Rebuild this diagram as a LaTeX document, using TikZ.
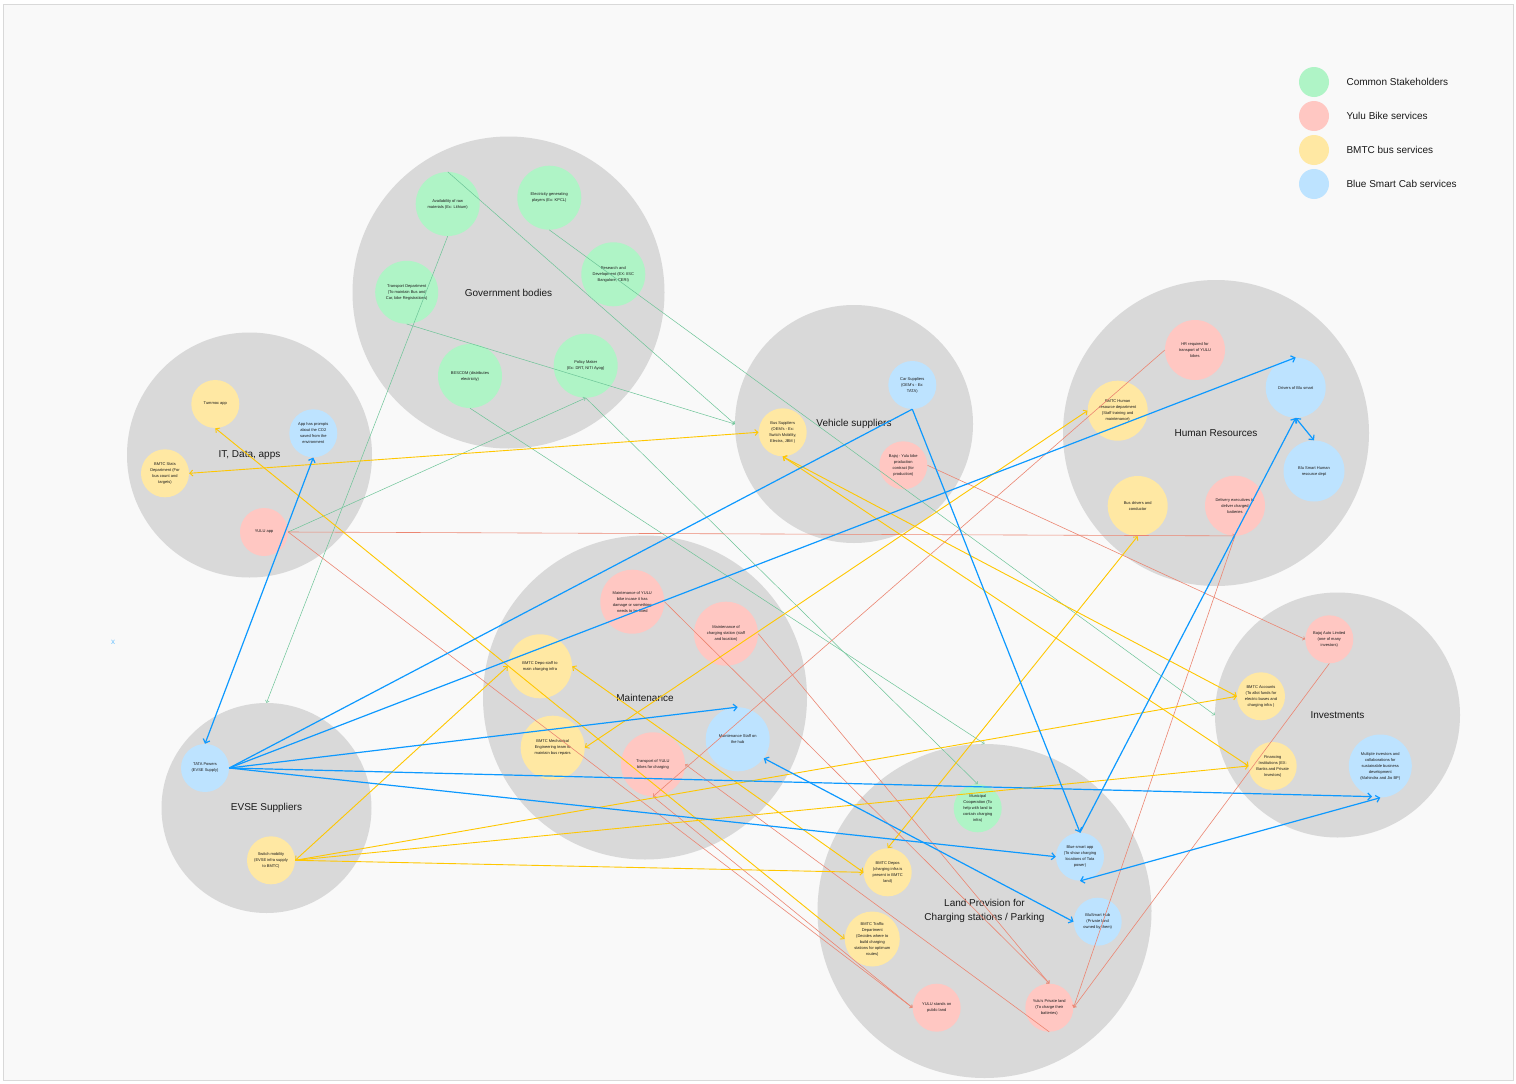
\documentclass[tikz,border=0pt]{standalone}
\usepackage{fontspec}
\setmainfont{Liberation Sans}
\usetikzlibrary{arrows.meta}
\definecolor{stakegreen}{HTML}{AFF4C6}
\definecolor{yulured}{HTML}{FFC7C2}
\definecolor{bmtcyellow}{HTML}{FFE8A3}
\definecolor{blucabblue}{HTML}{BDE3FF}
\definecolor{groupgray}{HTML}{D9D9D9}
\definecolor{pagebg}{HTML}{F9F9F9}
\definecolor{linkgreen}{HTML}{6CC497}
\definecolor{linkred}{HTML}{EC8672}
\definecolor{linkyellow}{HTML}{FFC700}
\definecolor{linkblue}{HTML}{0D99FF}
\begin{document}
\begin{tikzpicture}[x=1pt, y=-1pt,
  group/.style={circle, fill=groupgray, inner sep=0pt, align=center, text=black!90, font=\fontsize{10}{14}\selectfont},
  member/.style={circle, inner sep=0pt, align=center, text=black!90, font=\fontsize{4}{6}\selectfont},
  common/.style={member, fill=stakegreen},
  yulu/.style={member, fill=yulured},
  bmtc/.style={member, fill=bmtcyellow},
  blucab/.style={member, fill=blucabblue},
  legendtext/.style={anchor=west, text=black!90, font=\fontsize{10}{12}\selectfont},
  greenlink/.style={linkgreen, line width=0.5pt, >={Straight Barb[length=2pt,width=4pt]}},
  redlink/.style={linkred, line width=0.6pt, >={Straight Barb[length=2pt,width=4pt]}},
  yellowlink/.style={linkyellow, line width=0.9pt, >={Straight Barb[length=3pt,width=6pt]}},
  bluelink/.style={linkblue, line width=1.2pt, >={Straight Barb[length=3.5pt,width=7pt]}}]
  \useasboundingbox (0,0) rectangle (1516,1084);
  \fill[white] (0,0) rectangle (1516,1084);
  \filldraw[fill=pagebg, draw=black!15, line width=0.8pt] (3.5,4.5) rectangle (1513,1080);

  % groups
  \node[group, minimum size=312pt] (gov) at (508.5,292.5) {Government bodies};
  \node[group, minimum size=245pt] (itapps) at (249.5,455) {IT, Data, apps};
  \node[group, minimum size=238pt] (vehicle) at (854,424) {Vehicle suppliers};
  \node[group, minimum size=306pt] (humanres) at (1216,433) {Human Resources};
  \node[group, minimum size=324pt] (maint) at (645,697.5) {Maintenance};
  \node[group, minimum size=210pt] (evse) at (266.5,808) {EVSE Suppliers};
  \node[group, minimum size=245pt] (invest) at (1337.5,715) {Investments};
  \node[group, minimum size=334pt] (land) at (984.5,911) {Land Provision for\\Charging stations / Parking};

  % government bodies
  \node[common, minimum size=64pt] (rawmat) at (447.7,204) {Availability of raw\\materials (Ex: Lithium)};
  \node[common, minimum size=64pt] (elecgen) at (549.3,197.7) {Electricity generating\\players (Ex: KPCL)};
  \node[common, minimum size=64pt] (research) at (613.3,274.3) {Research and\\Development (EX: IISC\\Bangalore, CERI)};
  \node[common, minimum size=63pt] (transdept) at (406.7,292.3) {Transport Department\\(To maintain Bus and\\Car, bike Registrations)};
  \node[common, minimum size=64pt] (bescom) at (470,376) {BESCOM (distributes\\electricity)};
  \node[common, minimum size=64pt] (policy) at (585.7,365.7) {Policy Maker\\(Ex: DRT, NITI Ayog)};

  % it, data, apps
  \node[bmtc, minimum size=48pt] (tummoc) at (215.3,404) {Tummoc app};
  \node[blucab, minimum size=48pt] (appco2) at (313.3,433.3) {App has prompts\\about the CO2\\saved from the\\environment};
  \node[bmtc, minimum size=48pt] (bmtcstats) at (165,473.3) {BMTC Stats\\Department (For\\bus count and\\targets)};
  \node[yulu, minimum size=48pt] (yuluapp) at (264,532) {YULU app};

  % vehicle suppliers
  \node[blucab, minimum size=48pt] (carsup) at (912.3,385) {Car Suppliers\\(OEM's - Ex:\\TATA)};
  \node[bmtc, minimum size=48pt] (bussup) at (782.7,432.3) {Bus Suppliers\\(OEM's - Ex:\\Switch Mobility,\\Electra, JBM )};
  \node[yulu, minimum size=48pt] (bajajyulu) at (903.3,465.3) {Bajaj - Yulu bike\\production\\contract (for\\production)};

  % human resources
  \node[yulu, minimum size=60pt] (hryulu) at (1195,350) {HR required for\\transport of YULU\\bikes};
  \node[blucab, minimum size=60pt] (drivers) at (1295.7,387.7) {Drivers of Blu smart};
  \node[bmtc, minimum size=60pt] (bmtchr) at (1117.7,410.7) {BMTC Human\\resource department\\(Staff training and\\maintenance)};
  \node[blucab, minimum size=61pt] (bluhr) at (1314,471) {Blu Smart Human\\resource dept};
  \node[bmtc, minimum size=60pt] (busdrivers) at (1137.7,506) {Bus drivers and\\conductor};
  \node[yulu, minimum size=60pt] (delivery) at (1235,505.7) {Delivery executives to\\deliver charged\\batteries};

  % maintenance
  \node[yulu, minimum size=64pt] (mainyulu) at (632.3,601.7) {Maintenance of YULU\\bike incase it has\\damage or something\\needs to be fixed};
  \node[yulu, minimum size=64pt] (maincharge) at (726,633.7) {Maintenance of\\charging station (staff\\and location)};
  \node[bmtc, minimum size=64pt] (depostaff) at (540,666.3) {BMTC Depo staff to\\main charging infra};
  \node[bmtc, minimum size=64pt] (mech) at (552.7,747.7) {BMTC Mechanical\\Engineering team to\\maintain bus repairs};
  \node[yulu, minimum size=64pt] (transyulu) at (653,764.3) {Transport of YULU\\bikes for charging};
  \node[blucab, minimum size=64pt] (mstaff) at (737.7,739.3) {Maintenance Staff on\\the hub};

  % evse suppliers
  \node[blucab, minimum size=48pt] (tata) at (205,768) {TATA Powers\\(EVSE Supply)};
  \node[bmtc, minimum size=48pt] (switchmob) at (271,860.3) {Switch mobility\\(EVSE infra supply\\to BMTC)};

  % investments
  \node[yulu, minimum size=48pt] (bajajauto) at (1329.3,639.3) {Bajaj Auto Limited\\(one of many\\investors)};
  \node[bmtc, minimum size=48pt] (accounts) at (1261,696.3) {BMTC Accounts\\(To allot funds for\\electric buses and\\charging infra )};
  \node[bmtc, minimum size=48pt] (financing) at (1272.7,766) {Financing\\Institutions (EX:\\Banks and Private\\Investors)};
  \node[blucab, minimum size=63pt] (multiinv) at (1380.3,766) {Multiple investors and\\collaborations for\\sustainable business\\development\\(Mahindra and Jio BP)};

  % land provision
  \node[common, minimum size=48pt] (municipal) at (977.7,808.3) {Municipal\\Cooperation (To\\help with land to\\contain charging\\infra)};
  \node[blucab, minimum size=48pt] (blueapp) at (1080,856.7) {Blue smart app\\(To show charging\\locations of Tata\\power)};
  \node[bmtc, minimum size=48pt] (depos) at (887.7,872.3) {BMTC Depos\\(charging infra is\\present in BMTC\\land)};
  \node[blucab, minimum size=48pt] (hub) at (1097.7,921.7) {BluSmart Hub\\(Private land\\owned by them)};
  \node[bmtc, minimum size=55pt] (traffic) at (872.3,939) {BMTC Traffic\\Department\\(Decides where to\\build charging\\stations for optimum\\routes)};
  \node[yulu, minimum size=48pt] (yulustands) at (936.7,1007.7) {YULU stands on\\public land};
  \node[yulu, minimum size=48pt] (yululand) at (1049.3,1007.7) {Yulu's Private land\\(To charge their\\batteries)};

  % legend
  \node[common, minimum size=30pt] (legcommon) at (1314,82) {};
  \node[yulu, minimum size=30pt] (legyulu) at (1314,116) {};
  \node[bmtc, minimum size=30pt] (legbmtc) at (1314,150) {};
  \node[blucab, minimum size=30pt] (legblucab) at (1314,184) {};
  \node[legendtext] (legcommontext) at (1343,82) {Common Stakeholders};
  \node[legendtext] (legyulutext) at (1343,116) {Yulu Bike services};
  \node[legendtext] (legbmtctext) at (1343,150) {BMTC bus services};
  \node[legendtext] (legblucabtext) at (1343,184) {Blue Smart Cab services};
  \node[text=linkblue!60, font=\fontsize{8}{9}\selectfont] (strayx) at (113,642) {x};

  % green links
  \draw[greenlink, ->] (rawmat.north) -- (vehicle.west);
  \draw[greenlink, ->] (transdept.south) -- (vehicle.west);
  \draw[greenlink, ->] (elecgen.south) -- (invest.west);
  \draw[greenlink, ->] (rawmat.south) -- (evse.north);
  \draw[greenlink, ->] (bescom.south) -- (land.north);
  \draw[greenlink, ->] (yuluapp.east) -- (policy.south);
  \draw[greenlink, ->] (policy.south) -- (municipal.north);

  % red links
  \draw[redlink, ->] (yuluapp.east) -- (delivery.south);
  \draw[redlink, ->] (delivery.south) -- (yululand.east);
  \draw[redlink, ->] (bajajauto.south) -- (yululand.east);
  \draw[redlink, ->] (bajajyulu.east) -- (bajajauto.west);
  \draw[redlink, ->] (hryulu.west) -- (transyulu.south);
  \draw[redlink, ->] (mainyulu.east) -- (yululand.north);
  \draw[redlink, ->] (maincharge.east) -- (yululand.north);
  \draw[redlink, ->] (yuluapp.east) -- (yulustands.west);
  \draw[redlink, ->] (yululand.south) -- (transyulu.east);
  \draw[redlink, ->] (transyulu.south) -- (yulustands.west);

  % yellow links
  \draw[yellowlink, <->] (bmtcstats.east) -- (bussup.west);
  \draw[yellowlink, <->] (tummoc.south) -- (traffic.west);
  \draw[yellowlink, <->] (depostaff.east) -- (depos.west);
  \draw[yellowlink, <->] (depostaff.west) -- (switchmob.east);
  \draw[yellowlink, ->] (switchmob.east) -- (depos.west);
  \draw[yellowlink, ->] (switchmob.east) -- (accounts.west);
  \draw[yellowlink, ->] (switchmob.east) -- (financing.west);
  \draw[yellowlink, <->] (bussup.south) -- (accounts.west);
  \draw[yellowlink, <->] (bussup.south) -- (financing.west);
  \draw[yellowlink, <->] (mech.east) -- (bmtchr.west);
  \draw[yellowlink, <->] (depos.north) -- (busdrivers.south);

  % blue links
  \draw[bluelink, <->] (tata.north) -- (appco2.south);
  \draw[bluelink] (tata.east) -- (carsup.south);
  \draw[bluelink, ->] (tata.east) -- (drivers.north);
  \draw[bluelink, ->] (tata.east) -- (mstaff.north);
  \draw[bluelink, ->] (tata.east) -- (multiinv.-105);
  \draw[bluelink, ->] (tata.east) -- (blueapp.west);
  \draw[bluelink, ->] (carsup.south) -- (blueapp.north);
  \draw[bluelink, ->] (blueapp.north) -- (drivers.south);
  \draw[bluelink, <->] (drivers.south) -- (bluhr.north);
  \draw[bluelink, <->] (blueapp.south) -- (multiinv.south);
  \draw[bluelink, <->] (mstaff.-36) -- (hub.west);
\end{tikzpicture}
\end{document}
